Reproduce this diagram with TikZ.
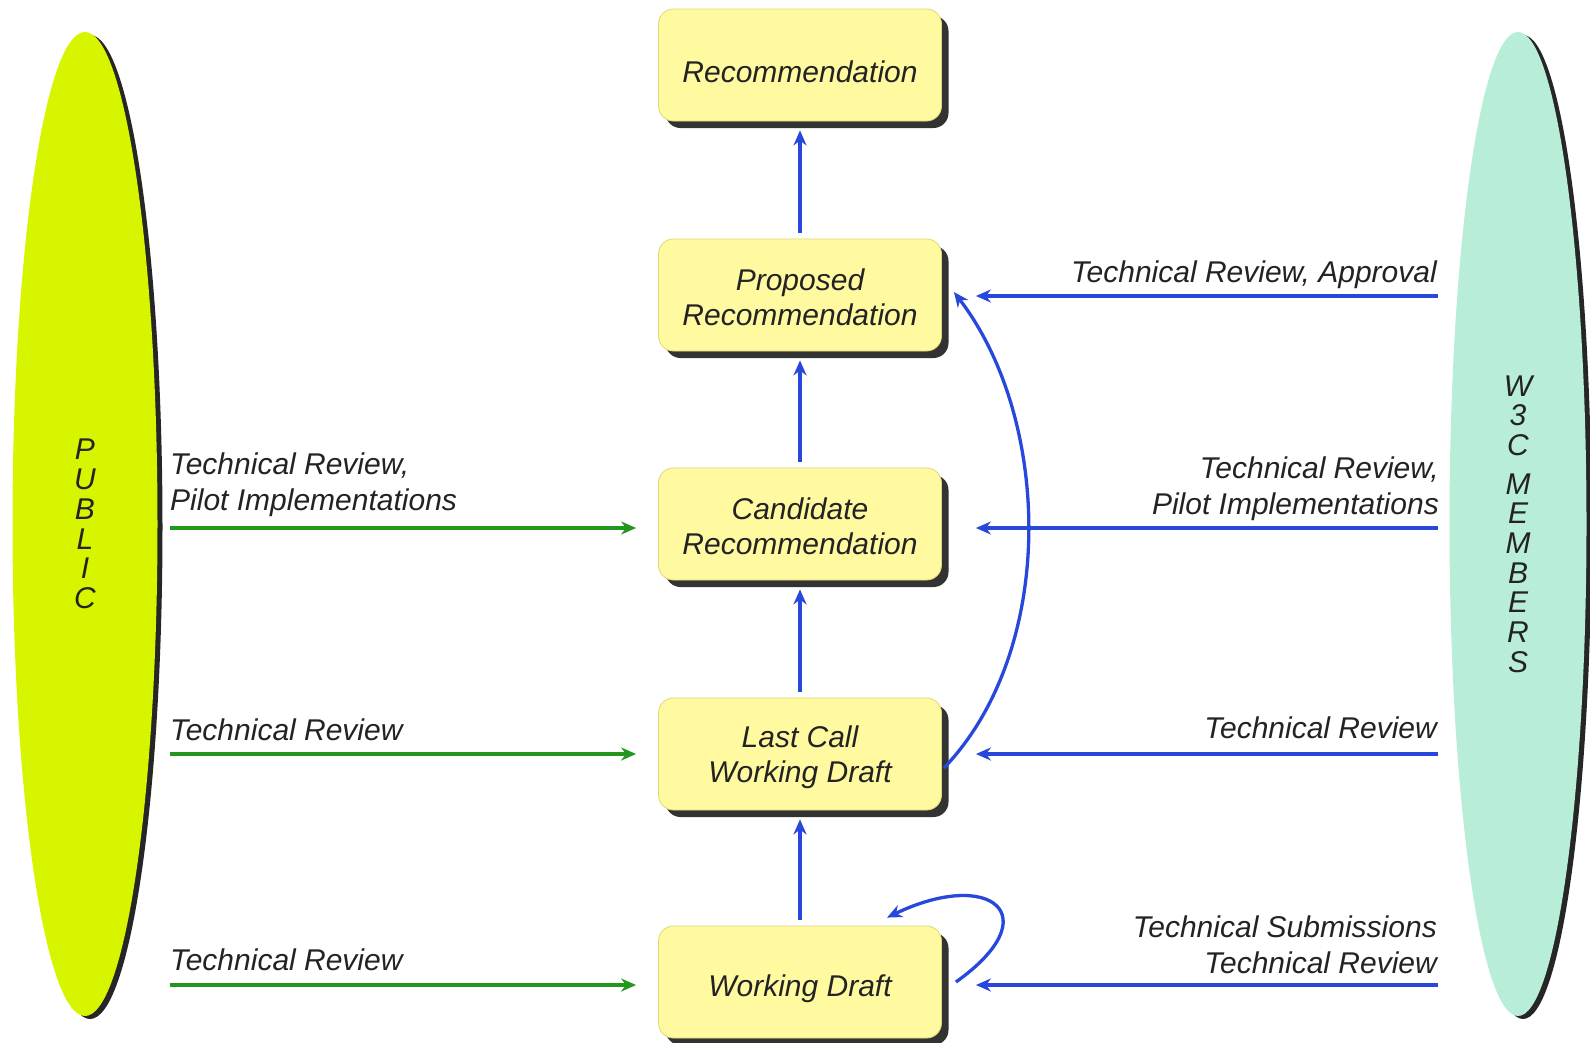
\documentclass[tikz,border=0pt]{standalone}
\usepackage{fontspec}
\setmainfont{Liberation Sans}
\usetikzlibrary{shapes.geometric,shadows,arrows.meta,calc}
\definecolor{boxfill}{RGB}{255,250,160}
\definecolor{boxdraw}{RGB}{225,215,120}
\definecolor{pubfill}{RGB}{216,245,0}
\definecolor{memfill}{RGB}{184,238,216}
\definecolor{arrblue}{RGB}{40,72,220}
\definecolor{arrgreen}{RGB}{35,150,30}
\definecolor{txt}{RGB}{35,35,35}
\tikzset{
  stagebox/.style={rectangle, rounded corners=15pt, minimum width=283pt, minimum height=112pt,
    fill=boxfill, draw=boxdraw, line width=0.8pt,
    drop shadow={shadow xshift=7pt, shadow yshift=-7pt, fill=black, opacity=0.8}},
  stagetext/.style={inner sep=0pt, align=center, text=txt,
    font=\itshape\fontsize{30}{35.5}\selectfont},
  party/.style={ellipse, inner sep=0pt, align=center, text=txt,
    font=\itshape\fontsize{30}{29.7}\selectfont,
    drop shadow={shadow xshift=5pt, shadow yshift=-3pt, fill=black, opacity=0.85}},
  lbl/.style={inner sep=0pt, text=txt, font=\itshape\fontsize{30}{36}\selectfont},
  barrow/.style={draw=arrblue, line width=3.3pt, -{Stealth[length=15pt,width=13pt]}},
  garrow/.style={draw=arrgreen, line width=3.3pt, -{Stealth[length=15pt,width=13pt]}}
}
\begin{document}
\begin{tikzpicture}[x=1pt,y=-1pt]
\useasboundingbox (0,0) rectangle (1590,1042);
\fill[white] (0,0) rectangle (1590,1042);

% parties
\node[party, fill=pubfill, minimum width=145pt, minimum height=984pt] (pub) at (85,524)
  {P\\U\\B\\L\\I\\C};
\node[party, fill=memfill, minimum width=137pt, minimum height=984pt] (mem) at (1518,524)
  {W\\3\\C\\[9pt]M\\E\\M\\B\\E\\R\\S};

% stages
\node[stagebox, label={[stagetext, yshift=-6.5pt]center:Recommendation}] (rec) at (800,65) {};
\node[stagebox, label={[stagetext, yshift=-2.5pt]center:Proposed\\Recommendation}] (pr) at (800,295) {};
\node[stagebox, label={[stagetext, yshift=-2.5pt]center:Candidate\\Recommendation}] (cr) at (800,524) {};
\node[stagebox, label={[stagetext, yshift=-3pt]center:Last Call\\Working Draft}] (lc) at (800,754) {};
\node[stagebox, label={[stagetext, yshift=-7pt]center:Working Draft}] (wd) at (800,982) {};

% vertical progression
\draw[barrow, shorten <=6pt, shorten >=9pt] (pr) -- (rec);
\draw[barrow, shorten <=6pt, shorten >=9pt] (cr) -- (pr);
\draw[barrow, shorten <=6pt, shorten >=9pt] (lc) -- (cr);
\draw[barrow, shorten <=6pt, shorten >=9pt] (wd) -- (lc);

% curved arrow last call -> proposed
\draw[barrow] ([xshift=2pt,yshift=-14pt]lc.east) .. controls (1057,650) and (1052,420) .. ([xshift=12pt,yshift=3pt]pr.east);
% self loop on working draft
\draw[barrow] ([xshift=14pt]wd.east) .. controls (1050,915) and (990,868) .. ([xshift=87pt,yshift=8pt]wd.north);

% public arrows
\coordinate (g1) at (170,528);
\coordinate (g2) at (170,754);
\coordinate (g3) at (170,985);
\draw[garrow, shorten >=22pt] (g1) -- (g1 -| cr.west);
\draw[garrow, shorten >=22pt] (g2) -- (g2 -| lc.west);
\draw[garrow, shorten >=22pt] (g3) -- (g3 -| wd.west);

% member arrows
\coordinate (b0) at (1438,296);
\coordinate (b1) at (1438,528);
\coordinate (b2) at (1438,754);
\coordinate (b3) at (1438,985);
\draw[barrow, shorten >=34pt] (b0) -- (b0 -| pr.east);
\draw[barrow, shorten >=34pt] (b1) -- (b1 -| cr.east);
\draw[barrow, shorten >=34pt] (b2) -- (b2 -| lc.east);
\draw[barrow, shorten >=34pt] (b3) -- (b3 -| wd.east);

% labels left
\node[lbl, anchor=west, align=left] (l1) at (170,485) {Technical Review,\\Pilot Implementations};
\node[lbl, anchor=west] (l2) at (170,730) {Technical Review};
\node[lbl, anchor=west] (l3) at (170,960) {Technical Review};

% labels right
\node[lbl, anchor=east] (r0) at (1437,275) {Technical Review, Approval};
\node[lbl, anchor=east, align=right] (r1) at (1439,489) {Technical Review,\\Pilot Implementations};
\node[lbl, anchor=east] (r2) at (1437,728) {Technical Review};
\node[lbl, anchor=east, align=right] (r3) at (1437,945) {Technical Submissions\\Technical Review};
\end{tikzpicture}
\end{document}
